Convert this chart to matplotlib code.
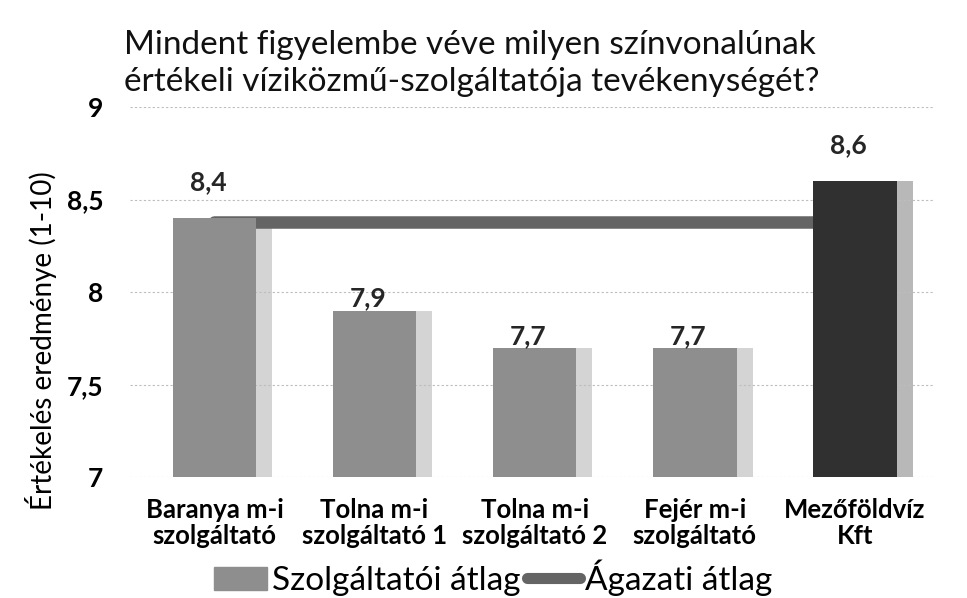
import matplotlib as mpl
mpl.use('Agg')
import matplotlib.pyplot as plt
import numpy as np

plt.rcParams['font.family'] = ['Lato', 'DejaVu Sans']

# data
categories = ['Baranya m-i\nszolgáltató', 'Tolna m-i\nszolgáltató 1', 'Tolna m-i\nszolgáltató 2',
              'Fejér m-i\nszolgáltató', 'Mezőföldvíz\nKft']
scores = [8.4, 7.9, 7.7, 7.7, 8.6]
score_labels = ['8,4', '7,9', '7,7', '7,7', '8,6']
sector_avg = [8.38, 8.38, 8.38, 8.38, 8.38]
yticks = [7, 7.5, 8, 8.5, 9]
ytick_labels = ['7', '7,5', '8', '8,5', '9']

fig = plt.figure(figsize=(9.67, 5.98), dpi=100)
ax = fig.add_axes([0.134, 0.202, 0.833, 0.619])

x = np.arange(len(categories))
colors = ['#8e8e8e'] * 4 + ['#303030']
shadow = ['#d4d4d4'] * 4 + ['#b8b8b8']

# soft shadow to the right of each bar
ax.bar(x + 0.1, scores, width=0.52, color=shadow, zorder=1)
ax.plot(x, sector_avg, color='#646464', lw=9, solid_capstyle='round', zorder=1.5)
ax.bar(x, scores, width=0.52, color=colors, zorder=2)

for xi, s, lab, avg in zip(x, scores, score_labels, sector_avg):
    pad = 0.13 if s > avg else 0.0
    ax.text(xi - 0.04, s + pad, lab, ha='center', va='bottom', fontsize=19,
            fontweight='bold', color='#262626', zorder=4)

ax.set_ylim(7, 9)
ax.set_xlim(-0.53, 4.5)
ax.set_yticks(yticks)
ax.set_yticklabels(ytick_labels, fontsize=19, fontweight='bold')
ax.set_xticks(x)
ax.set_xticklabels(categories, fontsize=18.5, fontweight='bold', linespacing=1.1)
ax.tick_params(length=0)
ax.tick_params(axis='y', pad=19)
ax.tick_params(axis='x', pad=15)
ax.grid(axis='y', color='#bdbdbd', lw=0.8, ls=(0, (2, 2)), zorder=0)
for sp in ax.spines.values():
    sp.set_visible(False)

ax.set_ylabel('Értékelés eredménye (1-10)', fontsize=20)
ax.yaxis.set_label_coords(-0.09, 0.37)

fig.text(0.128, 0.95, 'Mindent figyelembe véve milyen színvonalúnak\nértékeli víziközmű-szolgáltatója tevékenységét?',
         fontsize=24, ha='left', va='top', linespacing=1.3, color='#111111')

bar_h = mpl.patches.Patch(color='#8e8e8e')
line_h = mpl.lines.Line2D([], [], color='#646464', lw=8, solid_capstyle='round')
fig.legend([bar_h, line_h], ['Szolgáltatói átlag', 'Ágazati átlag'], loc='center',
           bbox_to_anchor=(0.51, 0.034), ncol=2, frameon=False, fontsize=24,
           handlelength=1.6, columnspacing=0.2, handletextpad=0.15)

fig.savefig('out.png', dpi=100)
